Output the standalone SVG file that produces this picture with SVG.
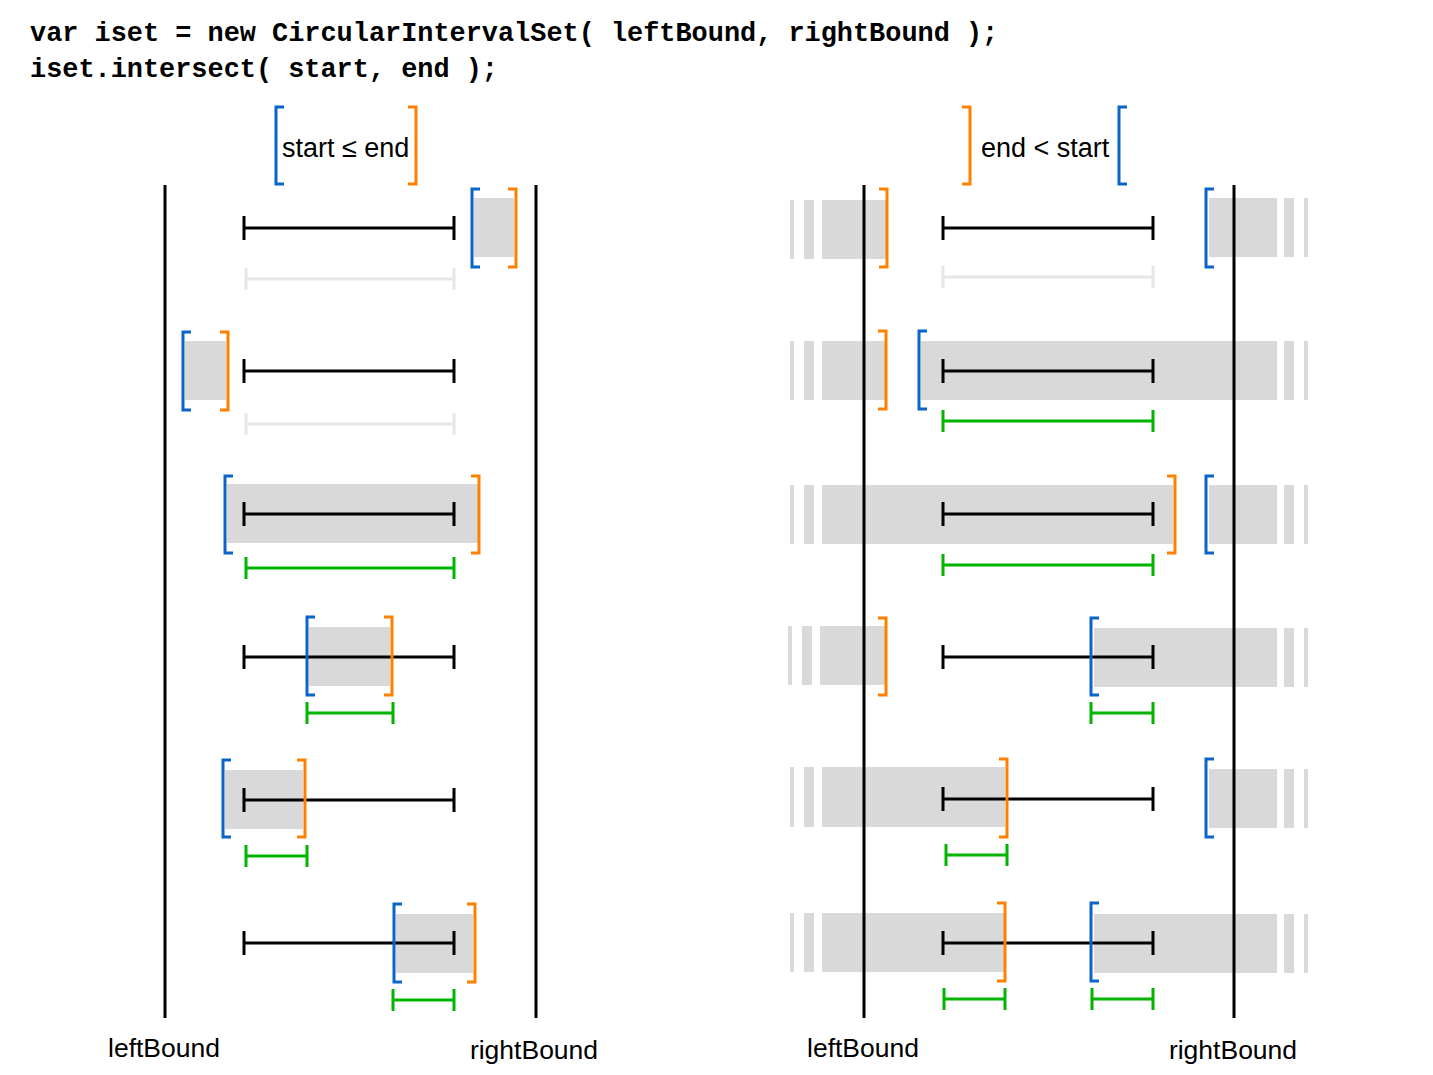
<svg xmlns="http://www.w3.org/2000/svg" width="1433" height="1075" viewBox="0 0 1433 1075">
<style>
.code{font-family:"Liberation Mono","Courier New",monospace;font-weight:bold;font-size:26.9px;fill:#000}
.lbl{font-family:"Liberation Sans",Arial,sans-serif;font-size:26.5px;fill:#000}
.hdr{font-size:27px}
.mid{text-anchor:middle}
.bound{stroke:#000;stroke-width:3;fill:none}
.blue{stroke:#0b64c8;stroke-width:3;fill:none}
.orange{stroke:#ff8000;stroke-width:3;fill:none}
.iv{stroke:#000;stroke-width:3;fill:none}
.res{stroke:#00b400;stroke-width:3;fill:none}
.empty{stroke:#e6e6e6;stroke-width:3;fill:none}
.sh{fill:#d9d9d9}
</style>
<rect width="1433" height="1075" fill="#fff"/>
<g id="code">
<text class="code" x="30" y="41" xml:space="preserve">var iset = new CircularIntervalSet( leftBound, rightBound );</text>
<text class="code" x="30" y="77" xml:space="preserve">iset.intersect( start, end );</text>
</g>
<g id="header-left">
<path class="blue" d="M284,107H276V184H284"/>
<path class="orange" d="M408,107H416V184H408"/>
<text class="lbl hdr" x="282" y="157">start ≤ end</text>
</g>
<g id="header-right">
<path class="orange" d="M962,107H970V184H962"/>
<path class="blue" d="M1127,107H1119V184H1127"/>
<text class="lbl hdr" x="981" y="157">end &lt; start</text>
</g>

<g id="shading">
<rect class="sh" x="474" y="198" width="40" height="59"/>
<rect class="sh" x="185" y="341" width="41" height="59"/>
<rect class="sh" x="227" y="484" width="251" height="59"/>
<rect class="sh" x="309" y="627" width="81" height="59"/>
<rect class="sh" x="225" y="770" width="78" height="59"/>
<rect class="sh" x="396" y="914" width="77" height="59"/>
<rect class="sh" x="790" y="200" width="4" height="59"/><rect class="sh" x="804" y="200" width="10" height="59"/><rect class="sh" x="822" y="200" width="64" height="59"/>
<rect class="sh" x="1209" y="198" width="68" height="59"/><rect class="sh" x="1284" y="198" width="10" height="59"/><rect class="sh" x="1304" y="198" width="4" height="59"/>
<rect class="sh" x="790" y="341" width="4" height="59"/><rect class="sh" x="804" y="341" width="10" height="59"/><rect class="sh" x="822" y="341" width="63" height="59"/>
<rect class="sh" x="921" y="341" width="356" height="59"/><rect class="sh" x="1284" y="341" width="10" height="59"/><rect class="sh" x="1304" y="341" width="4" height="59"/>
<rect class="sh" x="790" y="485" width="4" height="59"/><rect class="sh" x="804" y="485" width="10" height="59"/><rect class="sh" x="822" y="485" width="351" height="59"/>
<rect class="sh" x="1209" y="485" width="68" height="59"/><rect class="sh" x="1284" y="485" width="10" height="59"/><rect class="sh" x="1304" y="485" width="4" height="59"/>
<rect class="sh" x="788" y="626" width="4" height="59"/><rect class="sh" x="802" y="626" width="10" height="59"/><rect class="sh" x="820" y="626" width="65" height="59"/>
<rect class="sh" x="1094" y="628" width="183" height="59"/><rect class="sh" x="1284" y="628" width="10" height="59"/><rect class="sh" x="1304" y="628" width="4" height="59"/>
<rect class="sh" x="790" y="767" width="4" height="60"/><rect class="sh" x="804" y="767" width="10" height="60"/><rect class="sh" x="822" y="767" width="183" height="60"/>
<rect class="sh" x="1209" y="769" width="68" height="59"/><rect class="sh" x="1284" y="769" width="10" height="59"/><rect class="sh" x="1304" y="769" width="4" height="59"/>
<rect class="sh" x="790" y="913" width="4" height="59"/><rect class="sh" x="804" y="913" width="10" height="59"/><rect class="sh" x="822" y="913" width="182" height="59"/>
<rect class="sh" x="1094" y="914" width="183" height="59"/><rect class="sh" x="1284" y="914" width="10" height="59"/><rect class="sh" x="1304" y="914" width="4" height="59"/>
</g>

<g id="bounds">
<line class="bound" x1="165" y1="185" x2="165" y2="1018"/>
<line class="bound" x1="536" y1="185" x2="536" y2="1018"/>
<line class="bound" x1="864" y1="185" x2="864" y2="1018"/>
<line class="bound" x1="1234" y1="185" x2="1234" y2="1018"/>
</g>

<g id="intervals">
<path class="iv" d="M244,216V240M244,228H454M454,216V240"/>
<path class="iv" d="M244,359V383M244,371H454M454,359V383"/>
<path class="iv" d="M244,502V526M244,514H454M454,502V526"/>
<path class="iv" d="M244,645V669M244,657H454M454,645V669"/>
<path class="iv" d="M244,788V812M244,800H454M454,788V812"/>
<path class="iv" d="M244,931V955M244,943H454M454,931V955"/>
<path class="iv" d="M943,216V240M943,228H1153M1153,216V240"/>
<path class="iv" d="M943,359V383M943,371H1153M1153,359V383"/>
<path class="iv" d="M943,502V526M943,514H1153M1153,502V526"/>
<path class="iv" d="M943,645V669M943,657H1153M1153,645V669"/>
<path class="iv" d="M943,787V811M943,799H1153M1153,787V811"/>
<path class="iv" d="M943,931V955M943,943H1153M1153,931V955"/>
</g>

<g id="results">
<path class="empty" d="M246,268V290M246,279H454M454,268V290"/>
<path class="empty" d="M246,413V435M246,424H454M454,413V435"/>
<path class="res" d="M246,557V579M246,568H454M454,557V579"/>
<path class="res" d="M307,702V724M307,713H393M393,702V724"/>
<path class="res" d="M246,845V867M246,856H307M307,845V867"/>
<path class="res" d="M393,989V1011M393,1000H454M454,989V1011"/>
<path class="empty" d="M943,266V288M943,277H1153M1153,266V288"/>
<path class="res" d="M943,410V432M943,421H1153M1153,410V432"/>
<path class="res" d="M943,554V576M943,565H1153M1153,554V576"/>
<path class="res" d="M1091,702V724M1091,713H1153M1153,702V724"/>
<path class="res" d="M946,844V866M946,855H1007M1007,844V866"/>
<path class="res" d="M944,988V1010M944,999H1005M1005,988V1010"/>
<path class="res" d="M1092,988V1010M1092,999H1153M1153,988V1010"/>
</g>

<g id="brackets">
<path class="blue" d="M480,189H472V267H480"/><path class="orange" d="M508,189H516V267H508"/>
<path class="blue" d="M191,332H183V410H191"/><path class="orange" d="M220,332H228V410H220"/>
<path class="blue" d="M233,476H225V553H233"/><path class="orange" d="M471,476H479V553H471"/>
<path class="blue" d="M315,617H307V695H315"/><path class="orange" d="M384,617H392V695H384"/>
<path class="blue" d="M231,760H223V837H231"/><path class="orange" d="M297,760H305V837H297"/>
<path class="blue" d="M402,904H394V982H402"/><path class="orange" d="M467,904H475V982H467"/>
<path class="orange" d="M879,189H887V267H879"/><path class="blue" d="M1214,189H1206V267H1214"/>
<path class="orange" d="M878,331H886V409H878"/><path class="blue" d="M927,331H919V409H927"/>
<path class="orange" d="M1167,476H1175V553H1167"/><path class="blue" d="M1214,476H1206V553H1214"/>
<path class="orange" d="M878,618H886V695H878"/><path class="blue" d="M1099,618H1091V695H1099"/>
<path class="orange" d="M999,759H1007V837H999"/><path class="blue" d="M1214,759H1206V837H1214"/>
<path class="orange" d="M997,903H1005V981H997"/><path class="blue" d="M1099,903H1091V981H1099"/>
</g>

<g id="labels">
<text class="lbl mid" x="164" y="1057">leftBound</text>
<text class="lbl mid" x="534" y="1059">rightBound</text>
<text class="lbl mid" x="863" y="1057">leftBound</text>
<text class="lbl mid" x="1233" y="1059">rightBound</text>
</g>
</svg>
